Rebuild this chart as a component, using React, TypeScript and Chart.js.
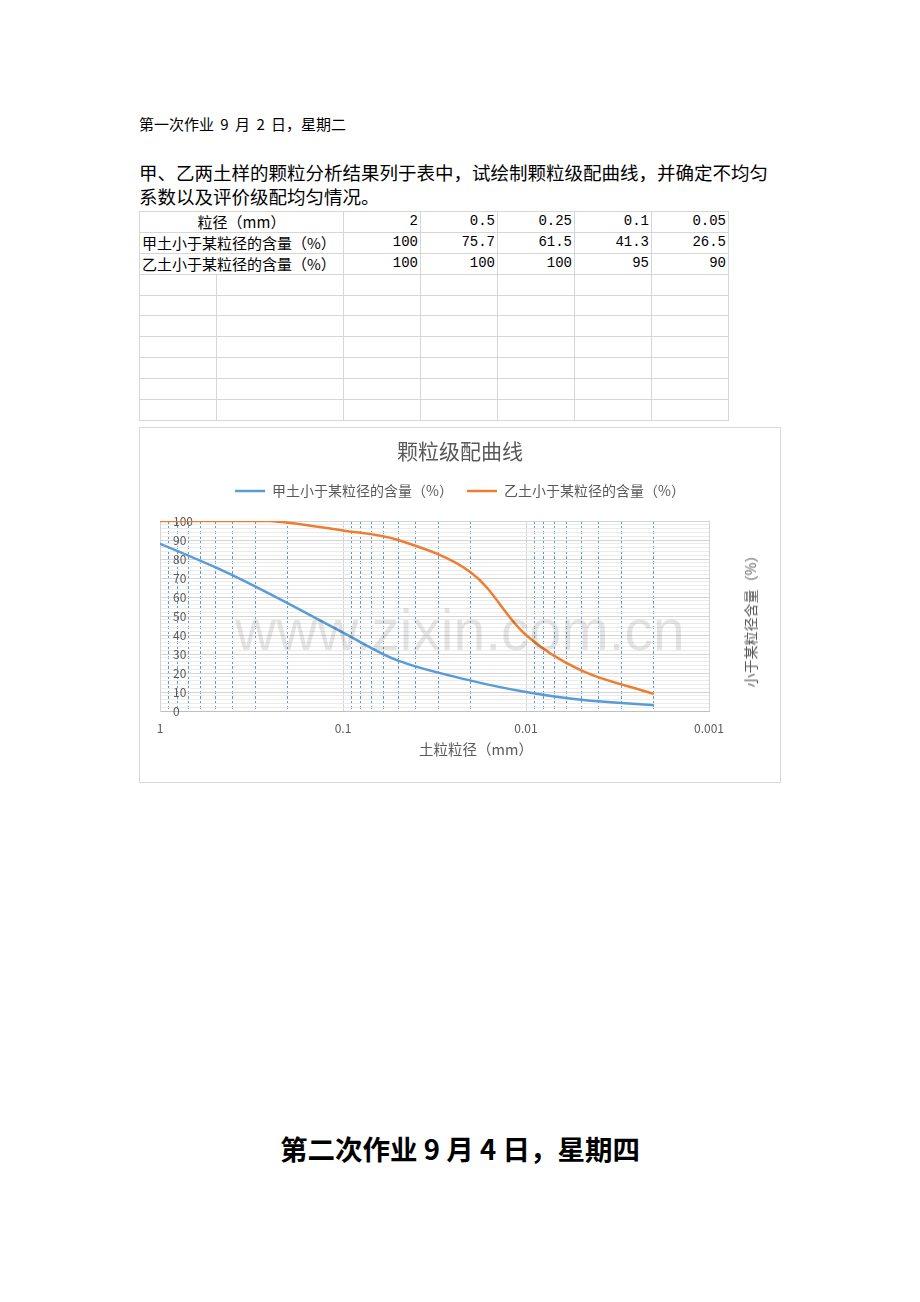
import React, { useEffect, useRef } from "react";
import { Chart, registerables } from "chart.js";

Chart.register(...registerables);

// ---- data ----
const SIZES_MM = [2, 0.5, 0.25, 0.1, 0.05, 0.02, 0.01, 0.005, 0.002];
const SOIL_A = [100, 75.7, 61.5, 41.3, 26.5, 16.0, 10.0, 5.9, 3.0];
const SOIL_B = [100, 100, 100, 95, 90, 72.9, 40.0, 21.4, 9.0];
const SERIES_NAMES = ["甲土小于某粒径的含量（%）", "乙土小于某粒径的含量（%）"];

const TABLE_HEAD = "粒径（mm）";
const TABLE_SIZES = ["2", "0.5", "0.25", "0.1", "0.05"];
const TABLE_A = ["100", "75.7", "61.5", "41.3", "26.5"];
const TABLE_B = ["100", "100", "100", "95", "90"];

const X_MAJOR = [1, 0.1, 0.01, 0.001];
const X_LABELS = ["1", "0.1", "0.01", "0.001"];
const X_MINOR_MULT = [2, 3, 4, 5, 6, 7, 8, 9];
const Y_LABEL_VALUES = [0, 10, 20, 30, 40, 50, 60, 70, 80, 90, 100];
const Y_MINOR_STEP = 2;

const CHART_TITLE = "颗粒级配曲线";
const X_TITLE = "土粒粒径（mm）";
const Y_TITLE = "小于某粒径含量（%）";

// ---- derived grid values ----
const X_GRID: number[] = [];
X_MAJOR.forEach((m, i) => {
  X_GRID.push(m);
  if (i < X_MAJOR.length - 1) X_MINOR_MULT.forEach((k) => X_GRID.push(+(k * X_MAJOR[i + 1]).toPrecision(6)));
});
const Y_GRID: number[] = [];
for (let v = 0; v <= 100; v += Y_MINOR_STEP) Y_GRID.push(v);

const FONT = '"Noto Sans CJK SC", "Noto Sans", sans-serif';
const TEXT = "#595959";
const BLUE = "#5b9bd5";
const ORANGE = "#ed7d31";

function GradationChart() {
  const ref = useRef<HTMLCanvasElement>(null);
  useEffect(() => {
    const chart = new Chart(ref.current as HTMLCanvasElement, {
      type: "line",
      data: {
        datasets: [
          {
            label: SERIES_NAMES[0],
            data: SIZES_MM.map((x, i) => ({ x, y: SOIL_A[i] })),
            borderColor: BLUE,
            backgroundColor: BLUE,
            borderWidth: 2.5,
            pointRadius: 0,
            tension: 0.35,
            fill: false,
          },
          {
            label: SERIES_NAMES[1],
            data: SIZES_MM.map((x, i) => ({ x, y: SOIL_B[i] })),
            borderColor: ORANGE,
            backgroundColor: ORANGE,
            borderWidth: 2.5,
            pointRadius: 0,
            tension: 0.35,
            fill: false,
          },
        ],
      },
      options: {
        animation: false,
        responsive: false,
        devicePixelRatio: 1,
        layout: { padding: { left: 0, right: 0, top: 0, bottom: 26 } },
        plugins: {
          title: {
            display: true,
            text: CHART_TITLE,
            color: TEXT,
            font: { family: FONT, size: 21, weight: "normal" },
            padding: { top: 10.4, bottom: 6.4 },
          },
          subtitle: {
            display: true,
            text: " ",
            position: "top",
            weight: 500,
            padding: 0,
            font: { family: FONT, size: 11, lineHeight: "13px" },
          } as any,
          legend: {
            display: true,
            position: "top",
            labels: {
              usePointStyle: true,
              pointStyle: "line",
              pointStyleWidth: 30,
              color: TEXT,
              font: { family: FONT, size: 14 },
              padding: 14,
            },
          },
          tooltip: { enabled: false },
        },
        scales: {
          x: {
            type: "logarithmic",
            reverse: true,
            min: 0.001,
            max: 1,
            afterBuildTicks: (s: any) => {
              s.ticks = X_GRID.map((v) => ({ value: v, major: X_MAJOR.includes(v) }));
            },
            afterFit: (s: any) => {
              s.height = 45;
            },
            ticks: {
              autoSkip: false,
              maxRotation: 0,
              minRotation: 0,
              padding: 10,
              color: TEXT,
              font: { family: FONT, size: 12 },
              callback: (v: any) => {
                const i = X_MAJOR.findIndex((m) => Math.abs(m - v) < m * 1e-6);
                return i >= 0 ? X_LABELS[i] : "";
              },
            },
            grid: {
              drawTicks: false,
              color: (c: any) => (c.tick && c.tick.major ? "#d4d4d4" : BLUE),
              lineWidth: 1,
            },
            border: {
              display: true,
              color: "#bfbfbf",
              width: 1,
              dash: (c: any) => (c.tick && !c.tick.major ? [3, 2] : []),
            },
          },
          y: {
            type: "linear",
            min: 0,
            max: 100,
            afterBuildTicks: (s: any) => {
              s.ticks = Y_GRID.map((v) => ({ value: v }));
            },
            afterFit: (s: any) => {
              s.width = 20;
            },
            ticks: {
              mirror: true,
              padding: 13,
              autoSkip: false,
              color: TEXT,
              font: { family: FONT, size: 12 },
              callback: (v: any) => (Y_LABEL_VALUES.includes(v) ? String(v) : ""),
            },
            grid: {
              drawTicks: false,
              color: (c: any) => (c.tick && Y_LABEL_VALUES.includes(c.tick.value) ? "#d4d4d4" : "#ebebeb"),
              lineWidth: 1,
            },
            border: { display: true, color: "#d4d4d4", width: 1 },
          },
          yRight: {
            type: "linear",
            position: "right",
            display: true,
            min: 0,
            max: 100,
            afterFit: (s: any) => {
              s.width = 71;
            },
            ticks: { display: false },
            grid: { display: false, drawOnChartArea: false },
            border: { display: false },
          },
        },
      } as any,
    });
    return () => chart.destroy();
  }, []);
  return <canvas ref={ref} width={640} height={354} style={{ display: "block", width: 640, height: 354 }} />;
}

const colW = [77, 127, 77, 77, 77, 77, 77];
const GRID_C = "#d6d6d6";

function DataTable() {
  const cell = (extra: React.CSSProperties = {}): React.CSSProperties => ({
    border: `1.5px solid ${GRID_C}`,
    height: 19.9,
    padding: "0 2px",
    whiteSpace: "nowrap",
    overflow: "hidden",
    lineHeight: "19px",
    ...extra,
  });
  const labelFont: React.CSSProperties = { fontFamily: FONT, fontSize: 15, color: "#000" };
  const numFont: React.CSSProperties = {
    fontFamily: '"Liberation Mono", "DejaVu Sans Mono", monospace',
    fontSize: 14,
    color: "#000",
    textAlign: "right",
  };
  const rows = [
    { label: TABLE_HEAD, vals: TABLE_SIZES, center: true },
    { label: SERIES_NAMES[0], vals: TABLE_A, center: false },
    { label: SERIES_NAMES[1], vals: TABLE_B, center: false },
  ];
  const empty = [0, 1, 2, 3, 4, 5, 6];
  return (
    <table
      style={{
        position: "absolute",
        left: 139,
        top: 211,
        borderCollapse: "collapse",
        tableLayout: "fixed",
        width: 589,
      }}
    >
      <colgroup>
        {colW.map((w, i) => (
          <col key={i} style={{ width: w }} />
        ))}
      </colgroup>
      <tbody>
        {rows.map((r, ri) => (
          <tr key={ri}>
            <td colSpan={2} style={cell({ ...labelFont, textAlign: r.center ? "center" : "left" })}>
              {r.label}
            </td>
            {r.vals.map((v, vi) => (
              <td key={vi} style={cell(numFont)}>
                {v}
              </td>
            ))}
          </tr>
        ))}
        {empty.map((e) => (
          <tr key={"e" + e}>
            {colW.map((_, ci) => (
              <td key={ci} style={cell()}></td>
            ))}
          </tr>
        ))}
      </tbody>
    </table>
  );
}

export default function App() {
  return (
    <div
      style={{
        position: "absolute",
        left: 0,
        top: 0,
        width: 920,
        height: 1302,
        background: "#fff",
        overflow: "hidden",
        fontFamily: FONT,
        color: "#000",
      }}
    >
      <div
        style={{
          position: "absolute",
          left: 139,
          top: 113,
          fontSize: 15,
          lineHeight: "22px",
          wordSpacing: 3,
          whiteSpace: "nowrap",
        }}
      >
        第一次作业 9 月 2 日，星期二
      </div>
      <div style={{ position: "absolute", left: 139, top: 160, fontSize: 18.5, lineHeight: "24px", whiteSpace: "nowrap" }}>
        <span style={{ display: "block" }}>甲、乙两土样的颗粒分析结果列于表中，试绘制颗粒级配曲线，并确定不均匀</span>
        <span style={{ display: "block" }}>系数以及评价级配均匀情况。</span>
      </div>
      <DataTable />
      <div
        style={{
          position: "absolute",
          left: 139,
          top: 427,
          width: 640,
          height: 354,
          border: "1px solid #d9d9d9",
          background: "#fff",
        }}
      >
        <GradationChart />
        <div
          style={{
            position: "absolute",
            left: 95,
            top: 174,
            fontFamily: '"Liberation Sans", Arial, sans-serif',
            fontSize: 57,
            lineHeight: "57px",
            color: "rgba(0,0,0,0.1)",
            whiteSpace: "nowrap",
            pointerEvents: "none",
          }}
        >
          www.zixin.com.cn
        </div>
        <div
          style={{
            position: "absolute",
            left: 336,
            top: 320,
            transform: "translate(-50%, -50%)",
            fontSize: 14.5,
            color: TEXT,
            whiteSpace: "nowrap",
          }}
        >
          {X_TITLE}
        </div>
        <div
          style={{
            position: "absolute",
            left: 610,
            top: 190,
            transform: "translate(-50%, -50%) rotate(-90deg)",
            fontSize: 14,
            color: TEXT,
            whiteSpace: "nowrap",
          }}
        >
          {Y_TITLE}
        </div>
      </div>
      <div
        style={{
          position: "absolute",
          left: 0,
          width: 920,
          top: 1130,
          textAlign: "center",
          fontSize: 27.5,
          lineHeight: "36px",
          fontWeight: "bold",
          whiteSpace: "nowrap",
        }}
      >
        第二次作业 9 月 4 日，星期四
      </div>
    </div>
  );
}
